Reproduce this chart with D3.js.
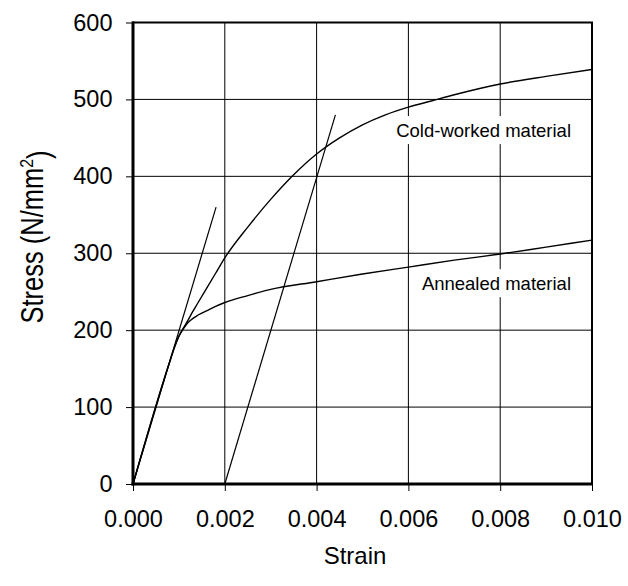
<!DOCTYPE html>
<html>
<head>
<meta charset="utf-8">
<script src="https://cdn.jsdelivr.net/npm/d3@7"></script>
<style>
  html, body { margin: 0; padding: 0; background: #fff; }
  svg { display: block; font-family: "Liberation Sans", Arial, sans-serif; }
</style>
</head>
<body>
<svg id="chart" width="628" height="586"></svg>
<script>
// ---- data ----
const xTicks = [0, 0.002, 0.004, 0.006, 0.008, 0.010];
const yTicks = [0, 100, 200, 300, 400, 500, 600];

const annealedStrain = [0, 0.0008, 0.0009, 0.0010, 0.0011, 0.0012, 0.0013, 0.0014, 0.0015, 0.0016, 0.0018, 0.0020, 0.0025, 0.0030, 0.0040, 0.0050, 0.0060, 0.0070, 0.0080, 0.0090, 0.0100];
const annealedStress = [0, 159, 177, 192, 202, 210, 215, 219, 222, 225, 231, 236, 245, 253, 263, 273, 282, 291, 299, 308, 317];

const coldStrain = [0, 0.0008, 0.0009, 0.0010, 0.0011, 0.0012, 0.0013, 0.0014, 0.0016, 0.0018, 0.0020, 0.0025, 0.0030, 0.0035, 0.0040, 0.0045, 0.0050, 0.0055, 0.0060, 0.0065, 0.0070, 0.0080, 0.0090, 0.0100];
const coldStress = [0, 159, 177, 192, 203, 213, 224, 234, 254, 274, 294, 334, 370, 402, 429, 450, 467, 480, 490, 498, 506, 520, 530, 539];

const elasticStrain = [0, 0.00181];
const elasticStress = [0, 360];
const offsetStrain = [0.002, 0.00441];
const offsetStress = [0, 480];

const labelText = ["Cold-worked material", "Annealed material"];
const labelAt = [[0.0100, 451], [0.0100, 252]]; // strain (right end), stress (baseline)

// ---- layout ----
const svg = d3.select("#chart");
const L = 133, R = 592, T = 22.5, B = 484;
const x = d3.scaleLinear().domain([0, 0.010]).range([L, R]);
const y = d3.scaleLinear().domain([0, 600]).range([B, T]);

// grid
const g = svg.append("g");
g.selectAll(".vg").data(xTicks.slice(1, -1)).join("line")
  .attr("x1", d => x(d)).attr("x2", d => x(d))
  .attr("y1", T).attr("y2", B)
  .attr("stroke", "#000").attr("stroke-width", 1);
g.selectAll(".hg").data(yTicks.slice(1, -1)).join("line")
  .attr("x1", L).attr("x2", R)
  .attr("y1", d => y(d)).attr("y2", d => y(d))
  .attr("stroke", "#000").attr("stroke-width", 1);

// axes (ticks + labels)
const xAxis = d3.axisBottom(x).tickValues(xTicks).tickFormat(d3.format(".3f")).tickSize(7).tickPadding(14);
const yAxis = d3.axisLeft(y).tickValues(yTicks).tickFormat(d3.format("d")).tickSize(7).tickPadding(14);
const gx = svg.append("g").attr("transform", `translate(0,${B})`).call(xAxis);
const gy = svg.append("g").attr("transform", `translate(${L},0)`).call(yAxis);
[gx, gy].forEach(a => {
  a.select(".domain").remove();
  a.selectAll(".tick line").attr("stroke", "#000").attr("stroke-width", 1);
  a.selectAll(".tick text").attr("fill", "#000")
    .style("font-family", "'Liberation Sans', Arial, sans-serif").style("font-size", "23.5px");
});
gx.selectAll(".tick text").attr("dy", "0.71em").attr("y", 26);
gy.selectAll(".tick text").attr("x", -20.5);

// label boxes (white backgrounds) + labels
const lab = svg.append("g");
labelText.forEach((t, i) => {
  const base = y(labelAt[i][1]);
  const tx = lab.append("text")
    .attr("x", x(labelAt[i][0]) - 21)
    .attr("y", base)
    .attr("text-anchor", "end")
    .style("font-size", "18.5px")
    .attr("fill", "#000")
    .text(t);
  const bb = tx.node().getBBox();
  lab.insert("rect", "text")
    .attr("x", bb.x - 6).attr("y", base - 21)
    .attr("width", bb.width + 11).attr("height", 28)
    .attr("fill", "#fff");
});

// curves
const line = d3.line().x(d => x(d[0])).y(d => y(d[1])).curve(d3.curveMonotoneX);
const straight = d3.line().x(d => x(d[0])).y(d => y(d[1]));
const curves = svg.append("g").attr("fill", "none").attr("stroke", "#000");
curves.append("path").attr("d", line(annealedStrain.map((s, i) => [s, annealedStress[i]]))).attr("stroke-width", 1.4);
curves.append("path").attr("d", line(coldStrain.map((s, i) => [s, coldStress[i]]))).attr("stroke-width", 1.4);
curves.append("path").attr("d", straight(elasticStrain.map((s, i) => [s, elasticStress[i]]))).attr("stroke-width", 1.2);
curves.append("path").attr("d", straight(offsetStrain.map((s, i) => [s, offsetStress[i]]))).attr("stroke-width", 1.2);

// frame
svg.append("rect").attr("x", L).attr("y", T).attr("width", R - L).attr("height", B - T)
  .attr("fill", "none").attr("stroke", "#000").attr("stroke-width", 2);
svg.append("line").attr("x1", L).attr("x2", L).attr("y1", T - 1).attr("y2", B + 1.5).attr("stroke", "#000").attr("stroke-width", 3);
svg.append("line").attr("x1", L - 1.5).attr("x2", R + 1).attr("y1", B).attr("y2", B).attr("stroke", "#000").attr("stroke-width", 3);

// axis titles
svg.append("text").attr("x", 355).attr("y", 564).attr("text-anchor", "middle")
  .style("font-size", "24px").attr("fill", "#000").text("Strain");
const yt = svg.append("text")
  .attr("transform", "translate(43,237) rotate(-90) scale(1,1.2)")
  .attr("text-anchor", "middle")
  .style("font-size", "25.5px").attr("fill", "#000");
yt.append("tspan").text("Stress (N/mm");
yt.append("tspan").attr("dy", "-0.5em").style("font-size", "16px").text("2");
yt.append("tspan").attr("dy", "0.5em").text(")");
</script>
</body>
</html>
